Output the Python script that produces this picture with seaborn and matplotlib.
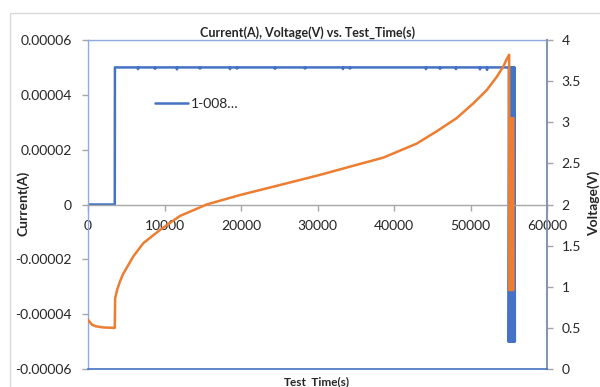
import seaborn as sns
import matplotlib.pyplot as plt
import matplotlib.patches as mpatches
from matplotlib.ticker import FuncFormatter
import pandas as pd
import numpy as np

# current trace (A): step on at ~3500 s, constant until the end of the charge
cur_t = [0, 3500, 3520, 55050]
cur_a = [0.0, 0.0, 0.00005, 0.00005]
# small dips along the constant-current line
dip_t = [6540, 8760, 11630, 14640, 18560, 19480, 24440, 28370,
         33330, 34250, 44180, 46010, 48100, 51240, 52160]
dip_a = [0.0000494, 0.0000495, 0.0000493, 0.0000496, 0.0000494, 0.0000496, 0.0000495, 0.0000496,
         0.0000494, 0.0000496, 0.0000494, 0.0000495, 0.0000494, 0.0000493, 0.0000491]

# voltage trace (V)
volt_t = [0, 500, 1000, 2000, 3500, 3550, 3800, 4200, 4620, 5930, 7230, 9410,
          12000, 15510, 19870, 25100, 30330, 34250, 38600, 42960, 45580,
          48190, 50370, 52110, 53420, 54300, 54750, 55050]
volt_v = [0.60, 0.54, 0.52, 0.505, 0.50, 0.86, 0.96, 1.07, 1.16, 1.37, 1.53, 1.69,
          1.86, 2.00, 2.115, 2.237, 2.36, 2.46, 2.57, 2.74, 2.89,
          3.05, 3.23, 3.39, 3.55, 3.68, 3.77, 3.82]

# pulsing at the end of the test
osc_cur_t = [55000, 55050, 55100, 55150, 55200, 55250, 55300, 55350, 55400, 55450,
             55500, 55550, 55600, 55650, 55700, 55750, 55800]
osc_cur_a = [-0.00005, 0.00005, -0.00005, 0.00005, -0.00005, 0.00005, -0.00005, 0.00005,
             -0.00005, 0.00005, -0.00005, 0.00005, -0.00005, 0.00005, -0.00005, 0.00005,
             -0.00005]
osc_volt_t = [55070, 55120, 55170, 55220, 55270, 55320, 55370, 55420, 55470, 55520, 55570, 55600]
osc_volt_v = [0.96, 3.05, 0.96, 3.05, 0.96, 3.05, 0.96, 3.05, 0.96, 3.05, 0.96, 3.05]

# build the tables
dips = pd.DataFrame({'t': dip_t, 'a': dip_a})
base = pd.DataFrame({'t': cur_t, 'a': cur_a})
flank = pd.DataFrame({'t': [d - 40 for d in dip_t] + [d + 40 for d in dip_t],
                      'a': [0.00005] * (2 * len(dip_t))})
cur = pd.concat([base, dips, flank]).sort_values('t', kind='stable')
cur = pd.concat([cur, pd.DataFrame({'t': osc_cur_t, 'a': osc_cur_a})])
volt = pd.concat([pd.DataFrame({'t': volt_t, 'v': volt_v}),
                  pd.DataFrame({'t': osc_volt_t, 'v': osc_volt_v})])

sns.set_style('white')
plt.rcParams['font.family'] = ['Lato', 'DejaVu Sans']

blue = '#4472C4'
orange = '#ED7D31'

fig = plt.figure(figsize=(6, 3.87), dpi=100)
ax = fig.add_axes([88 / 600, 1 - 369 / 387, (547 - 88) / 600, (369 - 40) / 387])
ax2 = ax.twinx()

sns.lineplot(data=cur, x='t', y='a', ax=ax, color=blue, lw=1.8,
             sort=False, estimator=None, label='1-008…')
sns.lineplot(data=volt, x='t', y='v', ax=ax2, color=orange, lw=1.8,
             sort=False, estimator=None, legend=False)

ax.set_xlim(0, 60000)
ax.set_ylim(-0.00006, 0.00006)
ax2.set_ylim(0, 4)
ax.set_xticks(np.arange(0, 60001, 10000))
ax.set_yticks(np.arange(-0.00006, 0.000061, 0.00002))
ax2.set_yticks(np.arange(0, 4.01, 0.5))
ax.yaxis.set_major_formatter(FuncFormatter(lambda v, p: '0' if abs(v) < 1e-9 else f'{v:.5f}'))
ax2.yaxis.set_major_formatter(FuncFormatter(lambda v, p: f'{v:g}'))
ax.set_xlabel('')
ax.set_ylabel('')
ax2.set_ylabel('')

# spines
ax.spines['bottom'].set_position(('data', 0))
ax.spines['bottom'].set_color('#A6A6A6')
ax.spines['left'].set_color('#8FAADC')
ax.spines['top'].set_color('#8FAADC')
ax.spines['right'].set_visible(False)
ax2.spines['left'].set_visible(False)
ax2.spines['top'].set_visible(False)
ax2.spines['bottom'].set_color(blue)
ax2.spines['right'].set_color('#8497B0')
ax2.spines['right'].set_linewidth(1.5)
for sp in ax.spines.values():
    sp.set_linewidth(1.0)
ax2.spines['bottom'].set_linewidth(1.2)

ax.tick_params(axis='x', direction='out', length=4, width=1, color='#A6A6A6',
               pad=7, labelsize=10, bottom=True)
ax.tick_params(axis='y', direction='out', length=4.5, width=1, color='#A6A6A6',
               pad=7, labelsize=10, left=True)
ax2.tick_params(axis='y', direction='out', length=4.5, width=1, color='#A6A6A6',
                pad=6, labelsize=10, right=True)

ax.legend(loc='center left', bbox_to_anchor=(148 / 600, 1 - 104 / 387),
          bbox_transform=fig.transFigure, frameon=False, fontsize=10,
          handlelength=2.4, handletextpad=0.2, borderpad=0)

# titles and labels
fig.text(308 / 600, 1 - 33 / 387, 'Current(A), Voltage(V) vs. Test_Time(s)',
         ha='center', va='center', fontsize=9, fontweight='bold')
fig.text(23 / 600, 1 - 203 / 387, 'Current(A)', rotation=90, ha='center', va='center',
         fontsize=10, fontweight='bold')
fig.text(594 / 600, 1 - 203 / 387, 'Voltage(V)', rotation=90, ha='center', va='center',
         fontsize=10, fontweight='bold')
fig.text(317 / 600, 1 - 382 / 387, 'Test_Time(s)', ha='center', va='center',
         fontsize=8.5, fontweight='bold')

# chart area border
fig.patches.append(mpatches.Rectangle((10 / 600, -0.1), 1.0, 0.1 + 1 - 13 / 387,
                                      transform=fig.transFigure, fill=False,
                                      edgecolor='#D9D9D9', lw=1))

fig.savefig('out.png', dpi=100)
